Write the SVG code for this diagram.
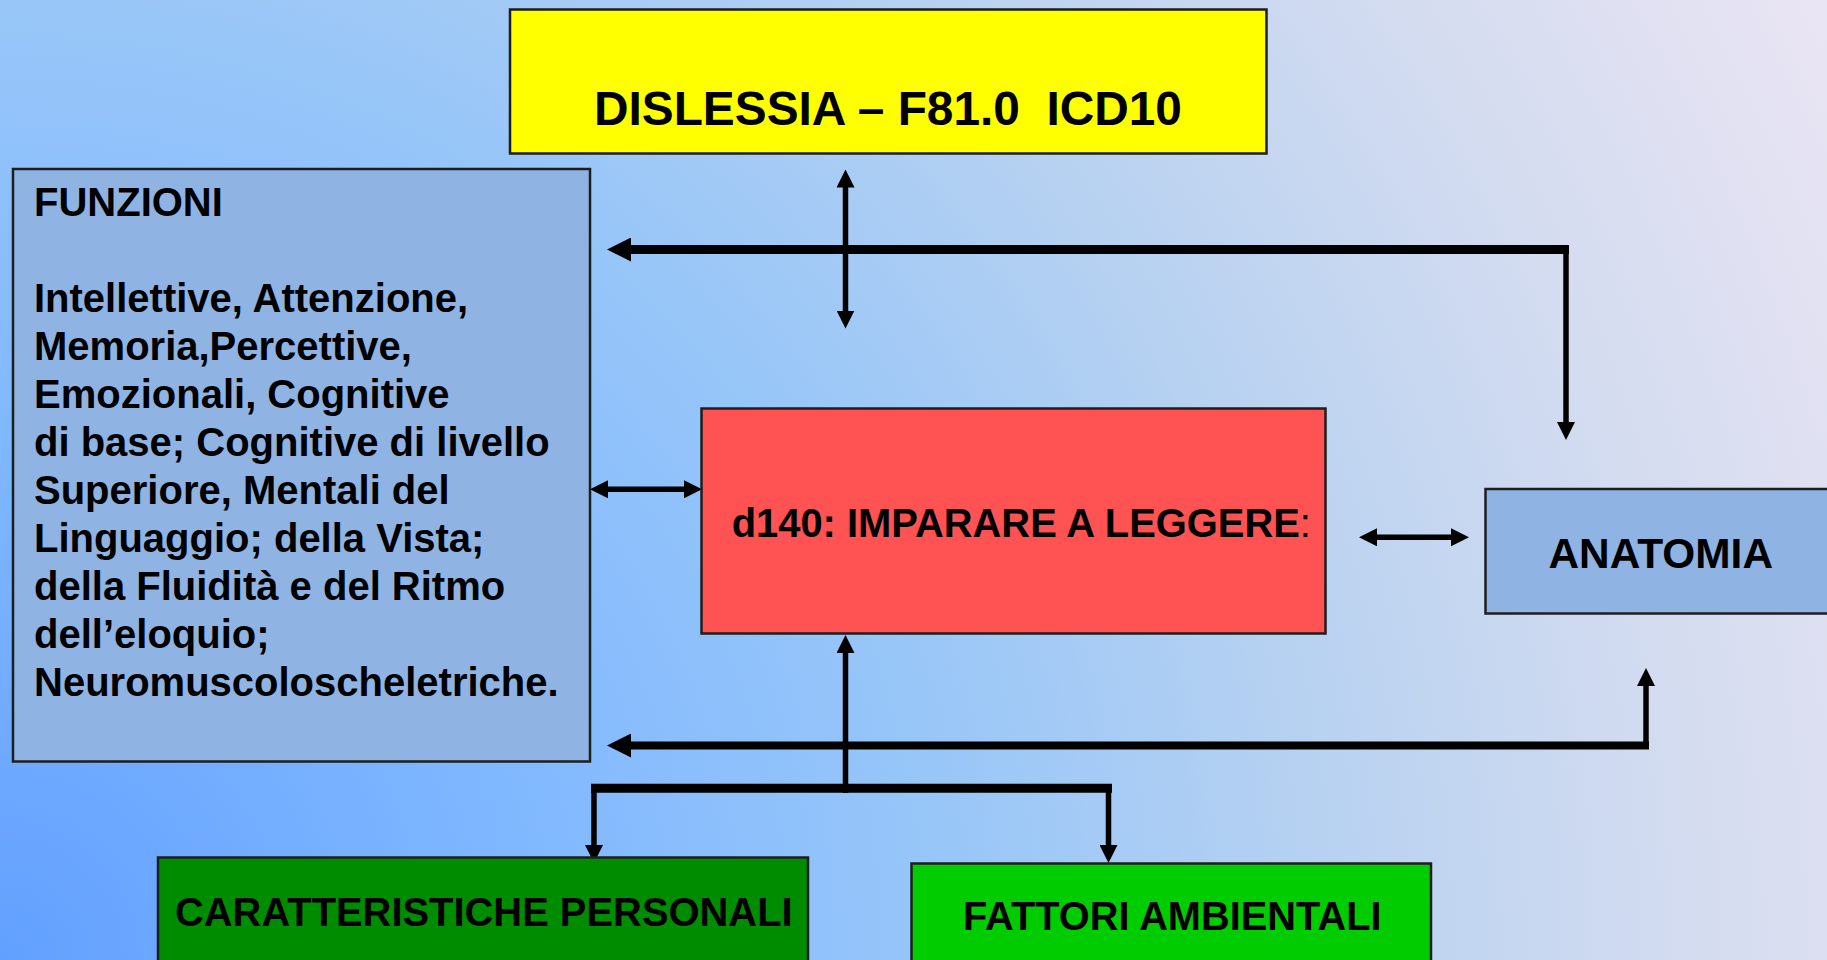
<svg xmlns="http://www.w3.org/2000/svg" width="1827" height="960" viewBox="0 0 1827 960">
<style>
.t{font-family:"Liberation Sans",Arial,sans-serif;font-weight:bold;fill:#000}
.box{stroke:#1e1e1e;stroke-width:2.5}
.c{fill:none;stroke:#000;stroke-linecap:butt}
.thin{stroke-width:5.5}
.thick{stroke-width:9}
</style>
<defs>
<radialGradient id="bg" gradientUnits="userSpaceOnUse" cx="0" cy="960" r="2120">
<stop offset="0" stop-color="#62a0ff"/>
<stop offset="0.25" stop-color="#80b8ff"/>
<stop offset="0.45" stop-color="#98c6f8"/>
<stop offset="0.62" stop-color="#b6d1f1"/>
<stop offset="0.8" stop-color="#d4dcf0"/>
<stop offset="1" stop-color="#ede6f4"/>
</radialGradient>
<marker id="as" markerUnits="userSpaceOnUse" viewBox="0 0 18 18" markerWidth="18" markerHeight="18" refX="1" refY="9" orient="auto-start-reverse">
<path d="M0,0 L18,9 L0,18 z" fill="#000"/>
</marker>
<marker id="ab" markerUnits="userSpaceOnUse" viewBox="0 0 24 24" markerWidth="24" markerHeight="24" refX="1" refY="12" orient="auto-start-reverse">
<path d="M0,0 L24,12 L0,24 z" fill="#000"/>
</marker>
</defs>
<rect x="0" y="0" width="1827" height="960" fill="url(#bg)"/>

<g id="connectors">
<path class="c thin" d="M845.5,186.5 V311.5" marker-start="url(#as)" marker-end="url(#as)"/>
<path class="c thick" d="M1569,249.5 H630" marker-end="url(#ab)"/>
<path class="c thin" d="M1566,249 V423" marker-end="url(#as)"/>
<path class="c thin" d="M607,489.3 H685" marker-start="url(#as)" marker-end="url(#as)"/>
<path class="c thin" d="M1376,537.3 H1452" marker-start="url(#as)" marker-end="url(#as)"/>
<path class="c thin" d="M845.5,793 V652" marker-end="url(#as)"/>
<path class="c" style="stroke-width:8" d="M1649,745.5 H630" marker-end="url(#ab)"/>
<path class="c thin" d="M1646,745 V685" marker-end="url(#as)"/>
<path class="c thick" d="M591,788.3 H1112"/>
<path class="c thin" d="M594,788 V846" marker-end="url(#as)"/>
<path class="c thin" d="M1108.5,788 V846" marker-end="url(#as)"/>
</g>

<g id="dislessia">
<rect class="box" x="510" y="9.5" width="756.5" height="144" fill="#ffff00"/>
<text class="t" x="594" y="125" font-size="47.8" xml:space="preserve">DISLESSIA – F81.0  ICD10</text>
</g>

<g id="funzioni">
<rect class="box" x="13" y="169" width="577" height="592.5" fill="#8fb4e3"/>
<text class="t" font-size="40">
<tspan x="34" y="215.5">FUNZIONI</tspan>
<tspan x="34" y="311.5">Intellettive, Attenzione,</tspan>
<tspan x="34" y="359.6">Memoria,Percettive,</tspan>
<tspan x="34" y="407.7">Emozionali, Cognitive</tspan>
<tspan x="34" y="455.8">di base; Cognitive di livello</tspan>
<tspan x="34" y="503.9">Superiore, Mentali del</tspan>
<tspan x="34" y="552">Linguaggio; della Vista;</tspan>
<tspan x="34" y="600.1">della Fluidità e del Ritmo</tspan>
<tspan x="34" y="648.2">dell’eloquio;</tspan>
<tspan x="34" y="696.3">Neuromuscoloscheletriche.</tspan>
</text>
</g>

<g id="d140">
<rect class="box" x="701.5" y="408.5" width="624" height="225" fill="#ff5252"/>
<text class="t" x="731.7" y="536.7" font-size="39.9">d140: IMPARARE A LEGGERE<tspan font-weight="normal">:</tspan></text>
</g>

<g id="anatomia">
<rect class="box" x="1485.5" y="489" width="360" height="124.5" fill="#8fb4e3"/>
<text class="t" x="1548.5" y="567.5" font-size="42.4">ANATOMIA</text>
</g>

<g id="caratteristiche">
<rect class="box" x="158" y="857.5" width="650" height="120" fill="#008c00"/>
<text class="t" x="175" y="925.5" font-size="39.9">CARATTERISTICHE PERSONALI</text>
</g>

<g id="fattori">
<rect class="box" x="911.5" y="863.5" width="519.5" height="120" fill="#00cc00"/>
<text class="t" x="963" y="930" font-size="39.8">FATTORI AMBIENTALI</text>
</g>
</svg>
